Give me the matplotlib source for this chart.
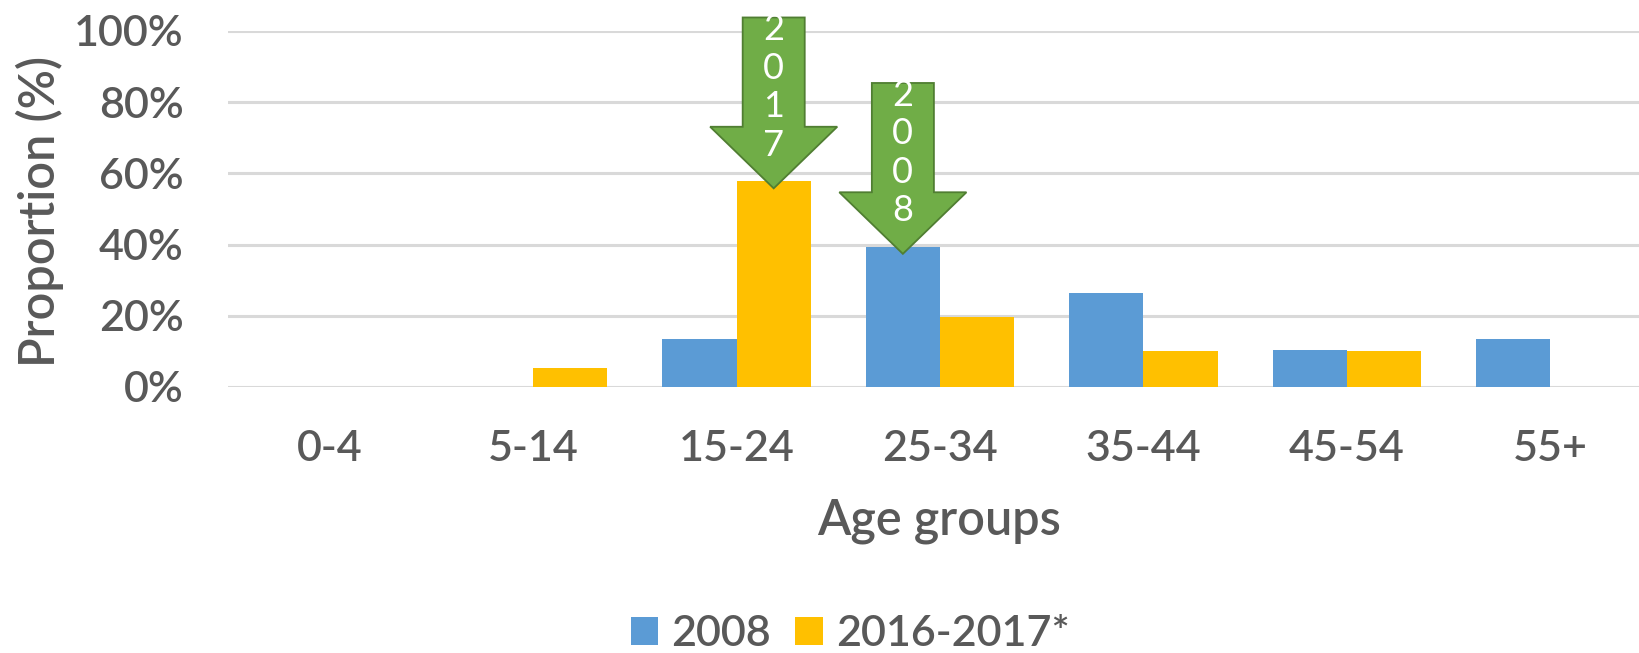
import matplotlib.pyplot as plt
import matplotlib as mpl
from matplotlib.patches import FancyArrow
import numpy as np

# data
age_groups = ["0-4", "5-14", "15-24", "25-34", "35-44", "45-54", "55+"]
share_2008 = [0.0, 0.0, 0.135, 0.394, 0.265, 0.103, 0.135]
share_2016_17 = [0.0, 0.053, 0.578, 0.197, 0.100, 0.100, 0.0]
series_names = ["2008", "2016-2017*"]
y_ticks = [0, 0.2, 0.4, 0.6, 0.8, 1.0]

BLUE = "#5B9BD5"
GOLD = "#FFC000"
GREEN = "#70AD47"
GREEN_EDGE = "#507E32"
TEXT = "#595959"
GRID = "#D9D9D9"

mpl.rcParams.update({
    "font.family": ["Lato", "DejaVu Sans"],
    "font.weight": "semibold",
    "text.color": TEXT,
    "axes.labelcolor": TEXT,
    "xtick.color": TEXT,
    "ytick.color": TEXT,
})

W, H = 1639, 653
fig = plt.figure(figsize=(W / 100, H / 100), dpi=100)
# plot area in pixels (right edge runs past the image, as in the source)
left, right, top, bottom = 228, 1652, 31, 387
ax = fig.add_axes([left / W, 1 - bottom / H, (right - left) / W, (bottom - top) / H])

x = np.arange(len(age_groups))
bw = 0.365
b1 = ax.bar(x - bw / 2, share_2008, bw, color=BLUE, label=series_names[0], zorder=3)
b2 = ax.bar(x + bw / 2, share_2016_17, bw, color=GOLD, label=series_names[1], zorder=3)

ax.set_xlim(-0.5, len(age_groups) - 0.5)
ax.set_ylim(0, 1.0)
ax.set_yticks(y_ticks)
ax.set_yticklabels([f"{int(round(t * 100))}%" for t in y_ticks])
ax.set_xticks(x)
ax.set_xticklabels(age_groups)
ax.tick_params(axis="both", length=0, labelsize=31)
ax.tick_params(axis="y", pad=32)
ax.tick_params(axis="x", pad=31)
ax.grid(axis="y", color=GRID, linewidth=2.2, zorder=0)
ax.set_axisbelow(True)
for s in ax.spines.values():
    s.set_visible(False)

# green call-out arrows pointing at the peak of each series
arrow_len, head_len = 0.48, 0.173
for idx, vals, offs, label in [(2, share_2016_17, bw / 2, "2017"),
                               (3, share_2008, -bw / 2, "2008")]:
    ax_x = x[idx] + offs
    tip = vals[idx] - 0.02
    arr = FancyArrow(ax_x, tip + arrow_len, 0, -arrow_len, width=0.305,
                     head_width=0.625, head_length=head_len,
                     length_includes_head=True, facecolor=GREEN,
                     edgecolor=GREEN_EDGE, linewidth=1.3, zorder=5,
                     clip_on=False)
    ax.add_patch(arr)
    for k, ch in enumerate(label):
        ax.text(ax_x, tip + 0.445 - k * 0.108, ch, ha="center", va="center",
                color="white", fontsize=26, fontweight="normal", zorder=6,
                clip_on=False)

fig.text(939 / W, 1 - 535 / H, "Age groups", ha="center", va="baseline",
         fontsize=35, color=TEXT)
fig.text(40 / W, 1 - 211 / H, "Proportion (%)", ha="center", va="center",
         rotation=90, fontsize=35, color=TEXT)

fig.legend(handles=[b1, b2], labels=series_names, loc="center",
           bbox_to_anchor=(850 / W, 1 - 634 / H), ncol=2, frameon=False,
           fontsize=31, handlelength=0.65, handleheight=0.65,
           handletextpad=0.3, columnspacing=0.55, borderpad=0)

fig.savefig("out.png", dpi=100)
